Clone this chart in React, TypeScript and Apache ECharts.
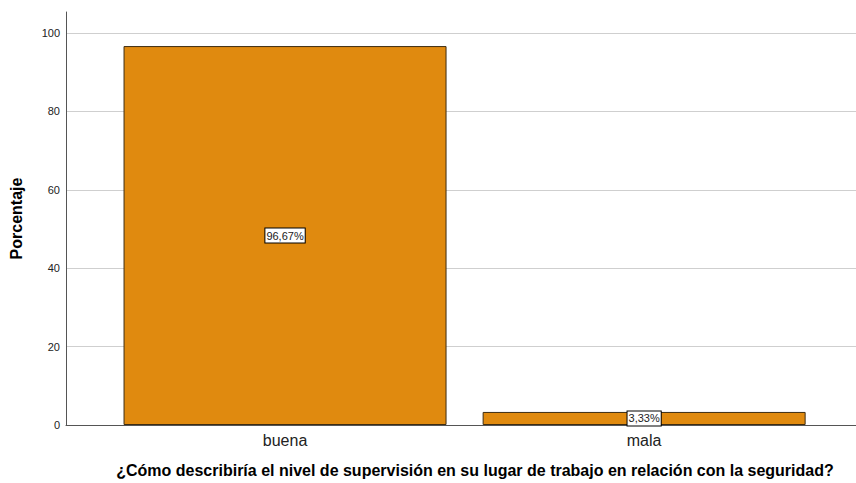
import React, { useEffect, useRef } from "react";
import * as echarts from "echarts";

const categories = ["buena", "mala"];
const percentValues = [96.67, 3.33];
const yTicks = [0, 20, 40, 60, 80, 100];

export default function App() {
  const ref = useRef<HTMLDivElement>(null);
  useEffect(() => {
    if (!ref.current) return;
    const chart = echarts.init(ref.current, null, { renderer: "svg" });
    const font = "Liberation Sans, Arial, sans-serif";
    chart.setOption({
      animation: false,
      backgroundColor: "#ffffff",
      grid: { left: 66, right: 0, top: 12, bottom: 58 },
      xAxis: {
        type: "value",
        min: -0.61,
        max: 1.59,
        name: "¿Cómo describiría el nivel de supervisión en su lugar de trabajo en relación con la seguridad?",
        nameLocation: "middle",
        nameGap: 37,
        nameTextStyle: { fontFamily: font, fontSize: 16, fontWeight: "bold", color: "#000", padding: [0, 0, 0, 28] },
        axisLine: { show: true, onZero: false, lineStyle: { color: "#555", width: 1 } },
        axisTick: { show: false },
        splitLine: { show: false },
        axisLabel: {
          customValues: [0, 1],
          formatter: (v: number) => categories[Math.round(v)] ?? "",
          fontFamily: font,
          fontSize: 16,
          color: "#222",
          margin: 7,
        },
      },
      yAxis: {
        type: "value",
        min: 0,
        max: 105.36,
        interval: 20,
        name: "Porcentaje",
        nameLocation: "middle",
        nameGap: 42,
        nameTextStyle: { fontFamily: font, fontSize: 16, fontWeight: "bold", color: "#000" },
        axisLine: { show: true, onZero: false, lineStyle: { color: "#555", width: 1 } },
        axisTick: { show: false },
        splitLine: { show: true, showMaxLine: false, lineStyle: { color: "#cfcfcf", width: 1 } },
        axisLabel: {
          showMaxLabel: false,
          formatter: (v: number) => (yTicks.includes(v) ? String(v) : ""),
          fontFamily: font,
          fontSize: 11,
          color: "#222",
          margin: 6,
        },
      },
      series: [
        {
          type: "bar",
          data: percentValues.map((v, i) => [i, v]),
          barWidth: 323,
          itemStyle: { color: "#e08a0f", borderColor: "#3d2c12", borderWidth: 1 },
          label: {
            show: true,
            position: "inside",
            formatter: (p: any) => p.value[1].toFixed(2).replace(".", ",") + "%",
            fontFamily: font,
            fontSize: 11,
            color: "#222",
            backgroundColor: "#ffffff",
            borderColor: "#000",
            borderWidth: 1,
            padding: [2, 1, 1, 1],
          },
        },
      ],
    });
    return () => chart.dispose();
  }, []);
  return (
    <div
      ref={ref}
      style={{ position: "fixed", left: 0, top: 0, width: 856, height: 483 }}
    />
  );
}
